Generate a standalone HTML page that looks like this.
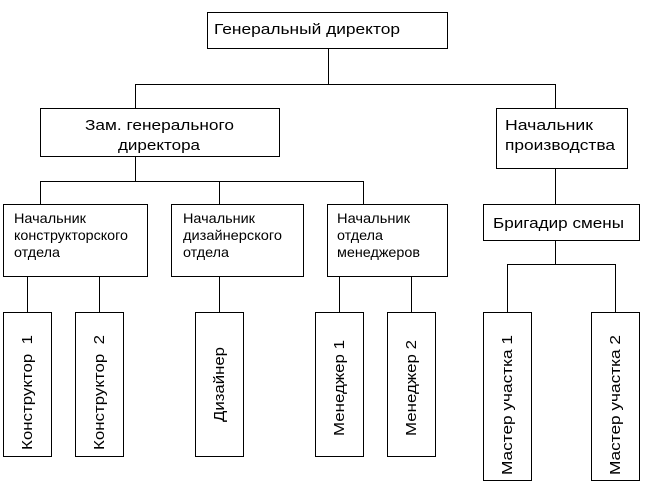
<!DOCTYPE html>
<html><head><meta charset="utf-8"><style>
html,body{margin:0;padding:0;background:#fff}
svg{display:block}
text{font-family:"Liberation Sans",Arial,sans-serif;font-size:14px;fill:#000}
.b{font-size:15px}
</style></head><body>
<svg width="651" height="504" viewBox="0 0 651 504" xmlns="http://www.w3.org/2000/svg">
<g fill="none" stroke="#000" stroke-width="1" shape-rendering="crispEdges">
<rect x="207.5" y="12.5" width="240" height="36"/>
<rect x="40.5" y="108.5" width="239" height="48"/>
<rect x="496.5" y="108.5" width="131" height="60"/>
<rect x="3.5" y="204.5" width="144" height="72"/>
<rect x="171.5" y="204.5" width="132" height="72"/>
<rect x="327.5" y="204.5" width="120" height="72"/>
<rect x="483.5" y="204.5" width="156" height="36"/>
<rect x="3.5" y="312.5" width="48" height="144"/>
<rect x="75.5" y="312.5" width="48" height="144"/>
<rect x="195.5" y="312.5" width="48" height="144"/>
<rect x="315.5" y="312.5" width="48" height="144"/>
<rect x="387.5" y="312.5" width="48" height="144"/>
<rect x="483.5" y="312.5" width="48" height="168"/>
<rect x="591.5" y="312.5" width="48" height="168"/>
<path d="M328.5 48V84.5M135.5 84.5H555.5M135.5 84V108M555.5 84V108"/>
<path d="M135.5 156V181.5M40.5 181.5H363.5M40.5 181V204M219.5 181V204M363.5 181V204"/>
<path d="M555.5 168V204M555.5 240V264.5M507.5 264.5H615.5M507.5 264V312M615.5 264V312"/>
<path d="M27.5 276V312M99.5 276V312M219.5 276V312M339.5 276V312M411.5 276V312"/>
</g>
<g lengthAdjust="spacingAndGlyphs">
<text class="b" x="214" y="34" textLength="186" lengthAdjust="spacingAndGlyphs">Генеральный директор</text>
<text class="b" x="85" y="130" textLength="149" lengthAdjust="spacingAndGlyphs">Зам. генерального</text>
<text class="b" x="118" y="150" textLength="82" lengthAdjust="spacingAndGlyphs">директора</text>
<text class="b" x="505" y="130" textLength="88" lengthAdjust="spacingAndGlyphs">Начальник</text>
<text class="b" x="505" y="150" textLength="110" lengthAdjust="spacingAndGlyphs">производства</text>
<text x="14" y="223" textLength="72" lengthAdjust="spacingAndGlyphs">Начальник</text>
<text x="14" y="240" textLength="114" lengthAdjust="spacingAndGlyphs">конструкторского</text>
<text x="14" y="257" textLength="46" lengthAdjust="spacingAndGlyphs">отдела</text>
<text x="183" y="223" textLength="72" lengthAdjust="spacingAndGlyphs">Начальник</text>
<text x="183" y="240" textLength="99" lengthAdjust="spacingAndGlyphs">дизайнерского</text>
<text x="183" y="257" textLength="46" lengthAdjust="spacingAndGlyphs">отдела</text>
<text x="337" y="223" textLength="73" lengthAdjust="spacingAndGlyphs">Начальник</text>
<text x="337" y="240" textLength="46" lengthAdjust="spacingAndGlyphs">отдела</text>
<text x="337" y="257" textLength="83" lengthAdjust="spacingAndGlyphs">менеджеров</text>
<text class="b" x="493" y="228" textLength="131" lengthAdjust="spacingAndGlyphs">Бригадир смены</text>
<text class="b" transform="translate(32,450) rotate(-90)" textLength="115" lengthAdjust="spacingAndGlyphs" xml:space="preserve">Конструктор  1</text>
<text class="b" transform="translate(104,450) rotate(-90)" textLength="115" lengthAdjust="spacingAndGlyphs" xml:space="preserve">Конструктор  2</text>
<text class="b" transform="translate(224,422) rotate(-90)" textLength="75" lengthAdjust="spacingAndGlyphs">Дизайнер</text>
<text class="b" transform="translate(344,436) rotate(-90)" textLength="96" lengthAdjust="spacingAndGlyphs">Менеджер 1</text>
<text class="b" transform="translate(416,436) rotate(-90)" textLength="96" lengthAdjust="spacingAndGlyphs">Менеджер 2</text>
<text class="b" transform="translate(512,475) rotate(-90)" textLength="140" lengthAdjust="spacingAndGlyphs">Мастер участка 1</text>
<text class="b" transform="translate(620,475) rotate(-90)" textLength="140" lengthAdjust="spacingAndGlyphs">Мастер участка 2</text>
</g>
</svg>
</body></html>
